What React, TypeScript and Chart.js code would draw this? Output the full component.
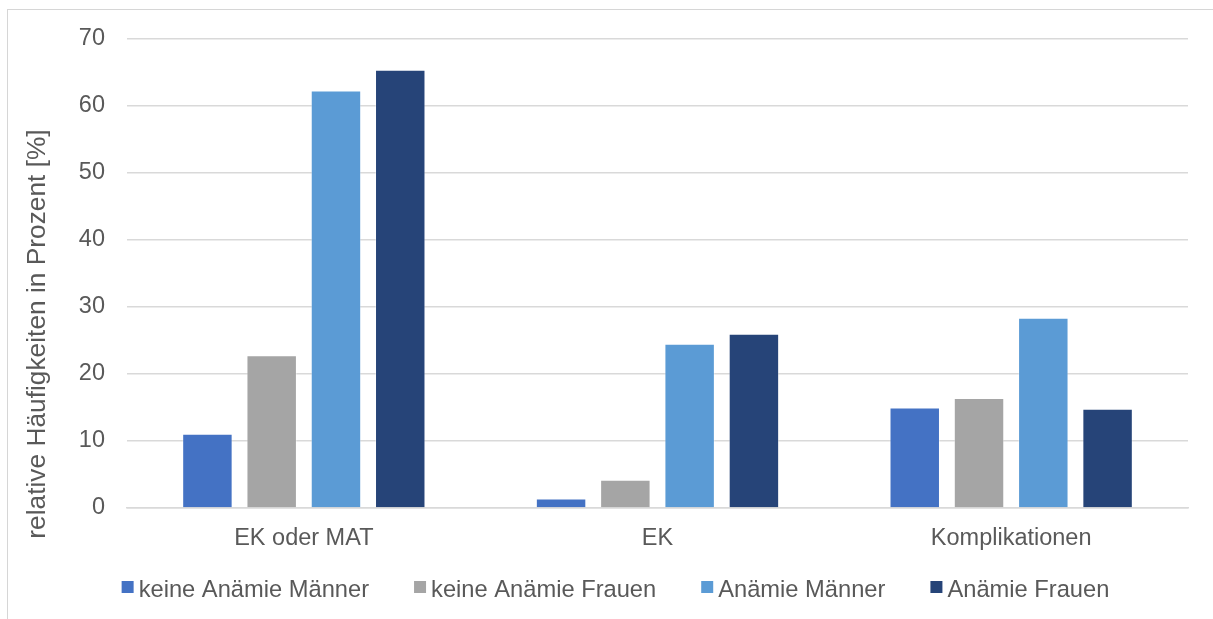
import React, { useEffect, useRef } from "react";
import { Chart, registerables } from "chart.js";

Chart.register(...registerables);

// Categories and series (relative frequencies in percent)
const categories = ["EK oder MAT", "EK", "Komplikationen"];
const seriesNames = [
  "keine Anämie Männer",
  "keine Anämie Frauen",
  "Anämie Männer",
  "Anämie Frauen",
];
const keineAnaemieMaenner = [11.1, 1.4, 15.0];
const keineAnaemieFrauen = [22.8, 4.2, 16.4];
const anaemieMaenner = [62.3, 24.5, 28.4];
const anaemieFrauen = [65.4, 26.0, 14.8];
const seriesColors = ["#4472C4", "#A5A5A5", "#5B9BD5", "#264478"];

const yMin = 0;
const yMax = 70;
const yStep = 10;
const yTitle = "relative Häufigkeiten in Prozent [%]";

const FONT_FAMILY = "'Liberation Sans', Arial, sans-serif";
const TEXT_COLOR = "#595959";
const GRID_COLOR = "#D9D9D9";
const CANVAS_W = 1217;
const CANVAS_H = 648;

// Rotated value-axis title, centred on the whole chart height
const yTitlePlugin = {
  id: "yTitle",
  afterDraw(chart: any) {
    const ctx = chart.ctx;
    ctx.save();
    ctx.translate(37, chart.height / 2);
    ctx.rotate(-Math.PI / 2);
    ctx.font = `26.3px ${FONT_FAMILY}`;
    ctx.fillStyle = TEXT_COLOR;
    ctx.textAlign = "center";
    ctx.textBaseline = "alphabetic";
    ctx.fillText(yTitle, 0, 0);
    ctx.restore();
  },
};

// Compact legend row: square swatch, small gap, label
const legendPlugin = {
  id: "legendRow",
  afterDraw(chart: any) {
    const ctx = chart.ctx;
    const box = 12;
    const gapText = 5;
    const gapItem = 45;
    const boxTop = 571;
    const baseline = 587;
    ctx.save();
    ctx.font = `23.7px ${FONT_FAMILY}`;
    const items = chart.data.datasets.map((ds: any) => ({
      text: ds.label as string,
      color: ds.backgroundColor as string,
      w: ctx.measureText(ds.label).width,
    }));
    const total =
      items.reduce((s: number, it: any) => s + box + gapText + it.w, 0) +
      gapItem * (items.length - 1);
    let x = (chart.width - total) / 2 - 1;
    ctx.textBaseline = "alphabetic";
    ctx.textAlign = "left";
    items.forEach((it: any) => {
      ctx.fillStyle = it.color;
      ctx.fillRect(x, boxTop, box, box);
      ctx.fillStyle = TEXT_COLOR;
      ctx.fillText(it.text, x + box + gapText, baseline);
      x += box + gapText + it.w + gapItem;
    });
    ctx.restore();
  },
};

export default function App() {
  const canvasRef = useRef<HTMLCanvasElement | null>(null);

  useEffect(() => {
    if (!canvasRef.current) return;
    const seriesValues = [
      keineAnaemieMaenner,
      keineAnaemieFrauen,
      anaemieMaenner,
      anaemieFrauen,
    ];
    const chart = new Chart(canvasRef.current, {
      type: "bar",
      data: {
        labels: categories,
        datasets: seriesNames.map((name, i) => ({
          label: name,
          data: seriesValues[i],
          backgroundColor: seriesColors[i],
          borderColor: "rgba(255,255,255,0.35)",
          borderWidth: 1,
          categoryPercentage: 0.727,
          barPercentage: 0.785,
        })),
      },
      options: {
        animation: false,
        responsive: false,
        devicePixelRatio: 1,
        layout: { padding: { top: 29, right: 37, left: 0, bottom: 0 } },
        plugins: {
          legend: { display: false },
          tooltip: { enabled: false },
        },
        scales: {
          x: {
            grid: { display: false },
            border: { display: true, color: GRID_COLOR, width: 1.5 },
            ticks: {
              color: TEXT_COLOR,
              font: { family: FONT_FAMILY, size: 23.5 },
              padding: 8,
            },
            afterFit: (scale: any) => {
              scale.height = 150;
            },
          },
          y: {
            min: yMin,
            max: yMax,
            ticks: {
              stepSize: yStep,
              color: TEXT_COLOR,
              font: { family: FONT_FAMILY, size: 23.5 },
              padding: 22,
            },
            grid: { color: GRID_COLOR, lineWidth: 1.5, drawTicks: false },
            border: { display: false },
            afterFit: (scale: any) => {
              scale.width = 119;
              // only the half label height is needed above/below the axis
              scale.paddingTop = 14;
              scale.paddingBottom = 14;
            },
          },
        },
      },
      plugins: [yTitlePlugin, legendPlugin],
    });
    return () => chart.destroy();
  }, []);

  return (
    <div
      style={{
        position: "fixed",
        left: 0,
        top: 0,
        width: "100vw",
        height: "100vh",
        overflow: "hidden",
        background: "#ffffff",
      }}
    >
      <div
        style={{
          position: "absolute",
          left: 7,
          top: 9,
          border: "1px solid #D6D6D6",
          width: CANVAS_W,
          height: CANVAS_H,
        }}
      >
        <canvas
          ref={canvasRef}
          width={CANVAS_W}
          height={CANVAS_H}
          style={{ display: "block" }}
        />
      </div>
    </div>
  );
}
